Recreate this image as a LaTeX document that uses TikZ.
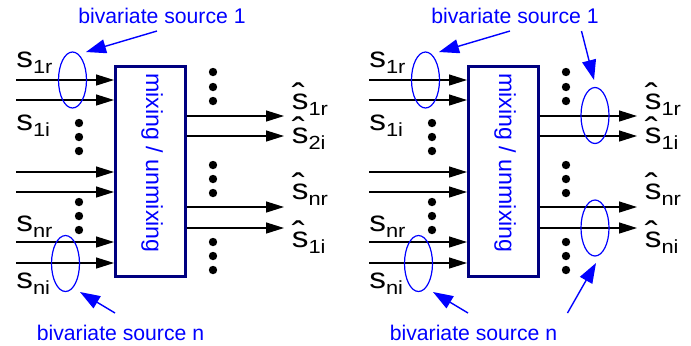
\documentclass[tikz,border=0pt]{standalone}
\usepackage{graphicx}
\usepackage{fontspec}
\setmainfont{Liberation Sans}
\usepackage{tikz}
\usetikzlibrary{arrows.meta, positioning, shapes.geometric, calc}
\definecolor{srcblue}{HTML}{0000FF}
\definecolor{boxnavy}{HTML}{000080}

\newcommand{\sigsub}[1]{\raisebox{-3.2pt}{\fontsize{9.5}{10}\selectfont #1}}
\newcommand{\sig}[1]{\scalebox{1.15}[1]{s\sigsub{#1}}}
\newcommand{\sighat}[1]{\scalebox{1.15}[1]{\rlap{\raisebox{0.6pt}[0pt][0pt]{\fontsize{17}{17}\selectfont\symbol{"02C6}}}s\sigsub{#1}}}

\begin{document}
\begin{tikzpicture}[
    x=0.5pt, y=-0.5pt,
    mixbox/.style={draw=boxnavy, line width=1.5pt, minimum width=34.75pt, minimum height=105pt, inner sep=0pt},
    mixlbl/.style={rotate=-90, text=srcblue, inner sep=0pt, font=\fontsize{11.6}{13}\selectfont},
    sigarrow/.style={-{Triangle[length=9pt, width=5.5pt]}, line width=0.65pt},
    srcarrow/.style={-{Triangle[length=10pt, width=7pt]}, color=srcblue, line width=0.7pt},
    srcring/.style={ellipse, draw=srcblue, line width=0.6pt, minimum width=14pt, minimum height=28pt, inner sep=0pt},
    blob/.style={circle, fill, inner sep=0pt, minimum size=4.2pt},
    srclbl/.style={anchor=base, inner sep=0pt, text=srcblue, font=\fontsize{10.6}{12}\selectfont},
    siglbl/.style={anchor=base west, inner sep=0pt, font=\fontsize{14.5}{16}\selectfont}
]
  \useasboundingbox (0,0) rectangle (691,345);

  % both panels: box, inputs, outputs, dots, labels
  \foreach \p/\dx/\oa/\ob/\oc/\od in {L/0/1r/2i/nr/1i, R/353/1r/1i/nr/ni}{
  \begin{scope}[xshift=\dx*0.5pt]
    \node[mixbox] (\p box) at (150.25,171) {};
    \node[mixlbl] (\p mix) at (152,163) {mixing / unmixing};

    \foreach \y [count=\i] in {80,100,172,192,242,263}{
      \coordinate (\p in\i) at (16,\y);
      \draw[sigarrow] (\p in\i) -- (\p in\i -| \p box.west);
    }
    \foreach \y [count=\i] in {116,136,207,228}{
      \coordinate (\p out\i) at (284,\y);
      \draw[sigarrow] (\p out\i -| \p box.east) -- (\p out\i);
    }

    \foreach \y [count=\i] in {123,137,151,202,216,230}
      \node[blob] (\p di\i) at (79,\y) {};
    \foreach \y [count=\i] in {72,87,101,165,179,193,242,256,270}
      \node[blob] (\p do\i) at (213,\y) {};

    \node[siglbl] (\p s1r) at (16,67) {\sig{1r}};
    \node[siglbl] (\p s1i) at (16,130) {\sig{1i}};
    \node[siglbl] (\p snr) at (16,231) {\sig{nr}};
    \node[siglbl] (\p sni) at (16,288) {\sig{ni}};

    \node[siglbl] (\p ha) at (291.5,109) {\sighat{\oa}};
    \node[siglbl] (\p hb) at (291.5,143) {\sighat{\ob}};
    \node[siglbl] (\p hc) at (291.5,199) {\sighat{\oc}};
    \node[siglbl] (\p hd) at (291.5,247) {\sighat{\od}};

    \node[srcring] (\p ring1) at (72.5,80) {};
    \node[srcring] (\p ringn) at (65.5,263.5) {};

    \node[srclbl] (\p src1) at (162,23) {bivariate source 1};
    \node[srclbl] (\p srcn) at (120.5,340) {bivariate source n};
    \draw[srcarrow] ($(\p src1.base)+(-5,8)$) -- ($(\p ring1.center)+(13.5,-28)$);
    \draw[srcarrow] ($(\p srcn.base)+(-5.5,-27)$) -- ($(\p ringn.center)+(14.5,28.5)$);
  \end{scope}
  }

  % right panel: output pairs
  \node[srcring] (Rring1o) at (595,115.5) {};
  \node[srcring] (Rringno) at (595,228) {};
  \draw[srcarrow] ($(Rsrc1.base)+(66.5,8)$) -- ($(Rring1o.center)+(-1,-35.5)$);
  \draw[srcarrow] ($(Rsrcn.base)+(94,-27)$) -- ($(Rringno.center)+(1,35)$);
\end{tikzpicture}
\end{document}
